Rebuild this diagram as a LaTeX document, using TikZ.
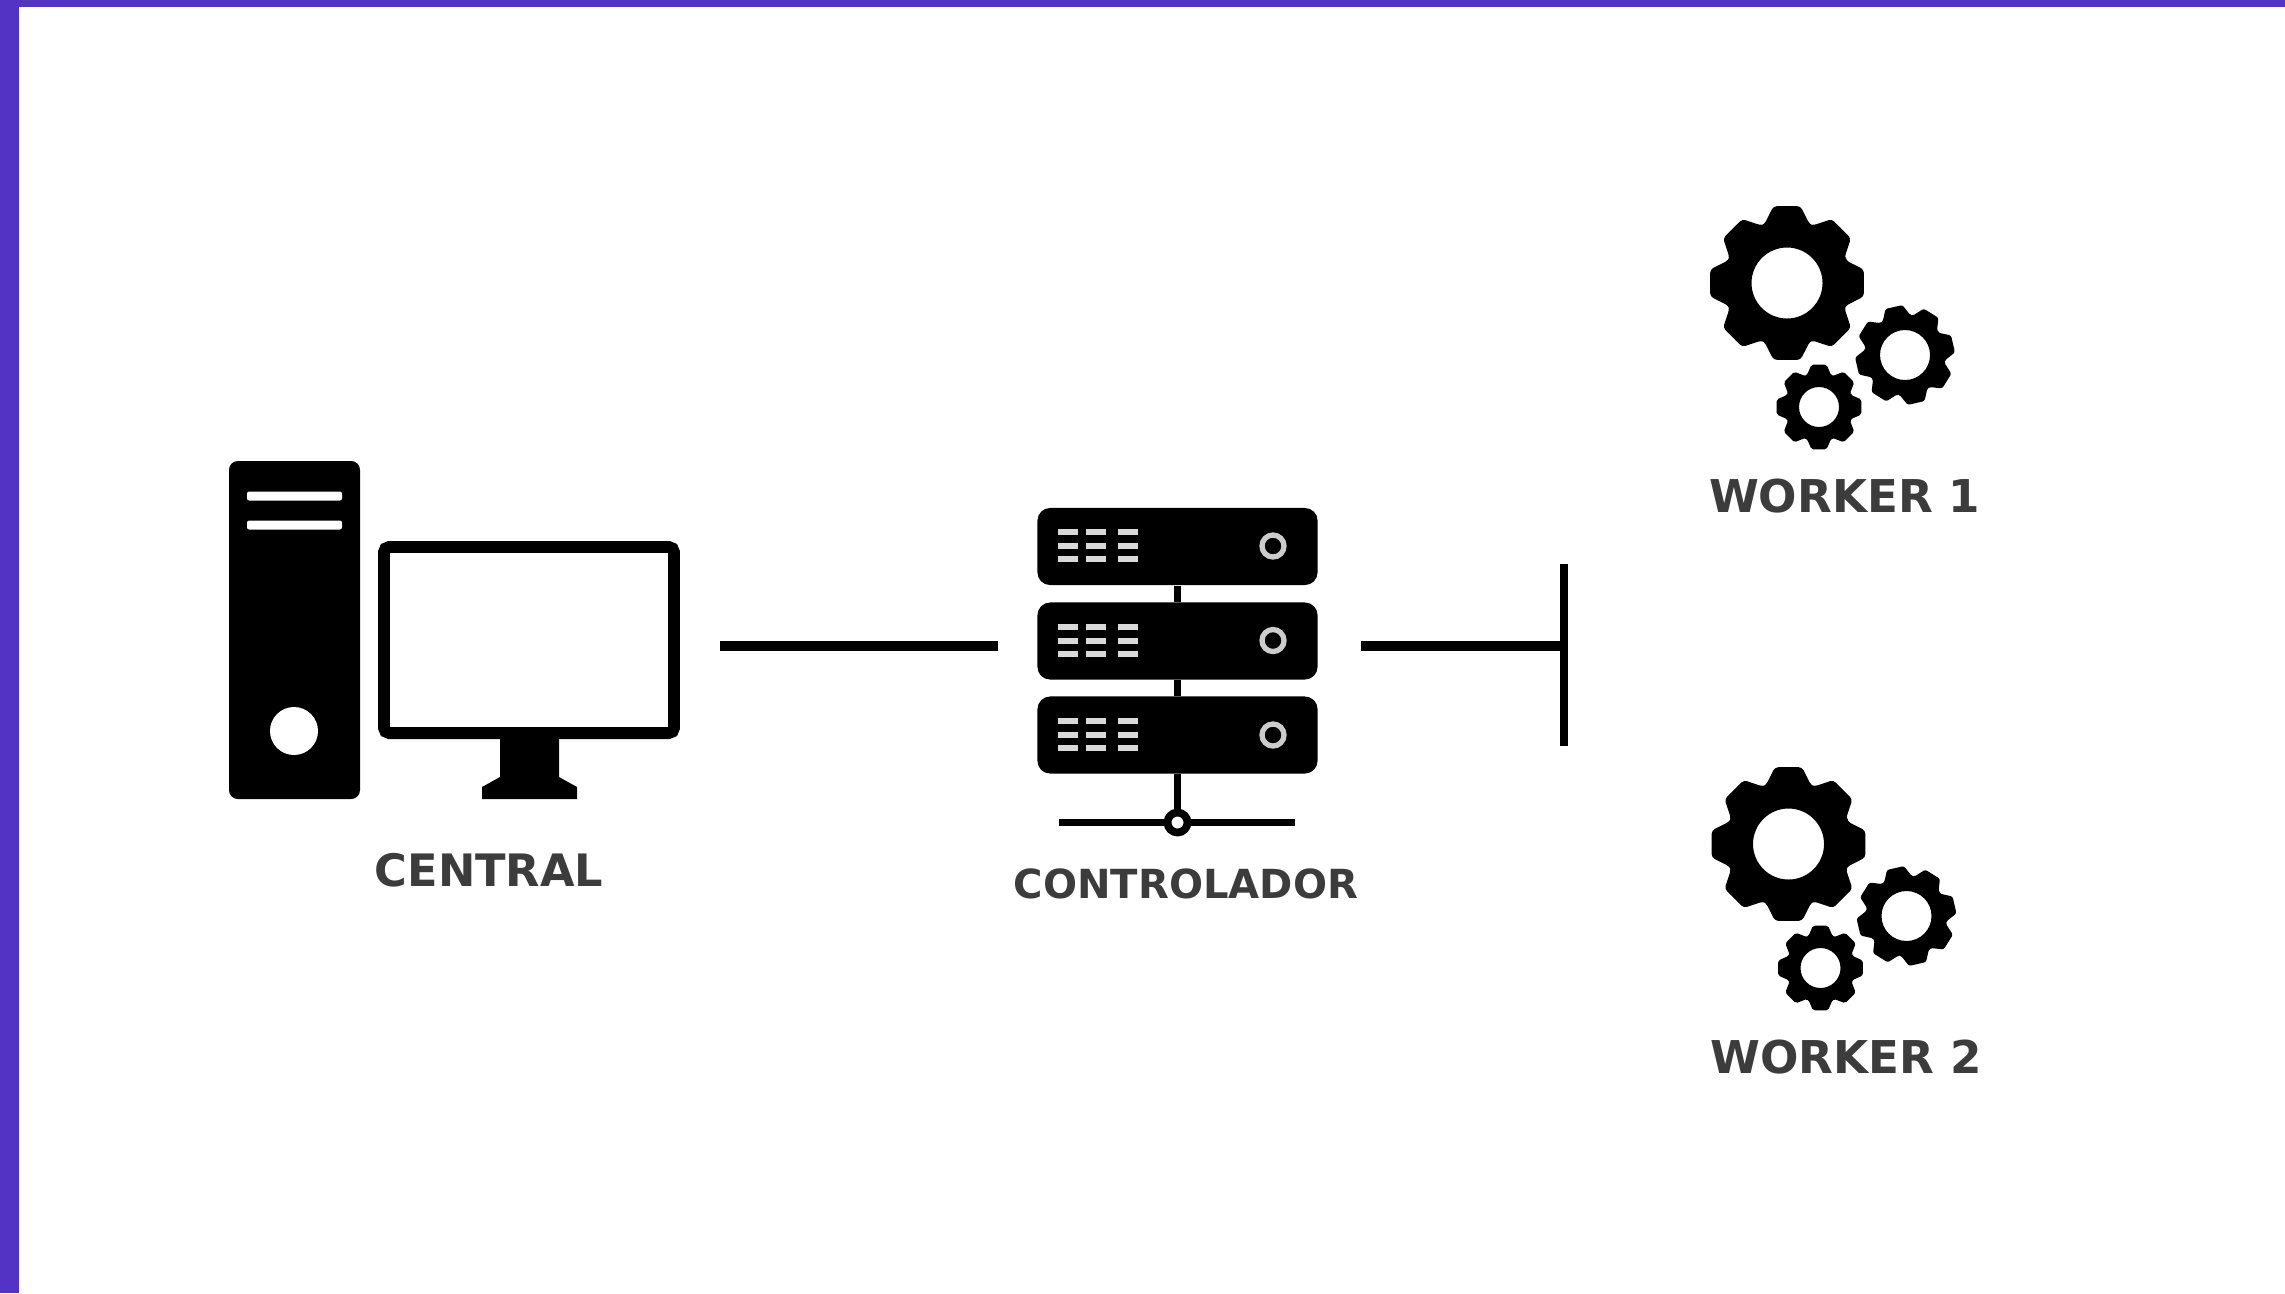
\documentclass[tikz,border=0pt]{standalone}
\usepackage{fontspec}
\setmainfont{DejaVu Sans}
\definecolor{bandviolet}{HTML}{5233C4}
\definecolor{labelgray}{HTML}{3C3C3C}
\tikzset{
  labeltext/.style={inner sep=0pt,text=labelgray,font=\fontsize{#1}{#1}\selectfont\bfseries},
  serverbox/.style={fill=black,rounded corners=3.6pt,minimum width=2.8cm,minimum height=0.77cm,inner sep=0pt},
  link/.style={line width=2.7pt},
  thinlink/.style={line width=2.2pt},
}
\newcommand{\gearicon}[6]{% x, y, rotation, outer, root, hole
  \fill[even odd rule,rounded corners=#4*0.012pt,shift={(#1,#2)}]
    ({#3-21}:#5) \foreach \a in {0,45,...,315} {
      -- ({#3+\a-21}:#5) -- ({#3+\a-10}:#4) -- ({#3+\a+10}:#4) -- ({#3+\a+21}:#5)
    } -- cycle
    (0,0) circle (#6);
}
\newcommand{\workericon}[3]{% dx, dy, number
  \begin{scope}[shift={(#1,#2)}]
    \gearicon{1787}{283}{0}{78}{63}{35.5}{}
    \gearicon{1905}{355}{-13}{50}{40}{25}{}
    \gearicon{1819}{407}{0}{43}{34}{20}{}
    \node[labeltext=12.85] (worker#3) at (1844.5,496.5) {WORKER #3};
  \end{scope}
}
\newcommand{\serverslots}[1]{%
  \foreach \sx in {1068,1096,1128} {
    \foreach \sy in {-14,0,13} {
      \fill[white!85!black] (\sx-10,#1+\sy-3) rectangle (\sx+10,#1+\sy+3);
    }
  }
  \draw[white!80!black,line width=1.5pt] (1273,#1) circle (11);
}

\begin{document}
\begin{tikzpicture}[x=0.01cm,y=-0.01cm]
\useasboundingbox (0,0) rectangle (2285,1293);
\fill[white] (0,0) rectangle (2285,1293);
\fill[bandviolet] (0,0) rectangle (19,1293);
\fill[bandviolet] (0,0) rectangle (2285,7);

% central
\fill[rounded corners=2.5pt] (229,461) rectangle (360,799);
\fill[white,rounded corners=0.6pt] (247,491.5) rectangle (342,500.5);
\fill[white,rounded corners=0.6pt] (247,520.5) rectangle (342,529.5);
\fill[white] (294,731) circle (24);
\draw[line width=3.4pt,rounded corners=1.5pt] (384,547) rectangle (674,733);
\fill (500,735) -- (559,735) -- (559,777) -- (577,787) -- (577,799) -- (482,799) -- (482,787) -- (500,777) -- cycle;
\node[labeltext=12.7] (central) at (489,870) {CENTRAL};

% controlador
\node[serverbox] (serverA) at (1177.5,546.5) {};
\node[serverbox] (serverB) at (1177.5,641) {};
\node[serverbox] (serverC) at (1177.5,735) {};
\draw[thinlink] (serverA) -- (serverB);
\draw[thinlink] (serverB) -- (serverC);
\serverslots{546}
\serverslots{640.5}
\serverslots{735}
\coordinate (busleft) at (1059,822.5);
\coordinate (busright) at (1295,822.5);
\node[circle,draw=black,fill=white,line width=2.2pt,minimum size=0.2cm,inner sep=0pt] (hub) at (1177.5,822.5) {};
\draw[thinlink] (busleft) -- (hub);
\draw[thinlink] (hub) -- (busright);
\draw[thinlink] (serverC.south) -- (hub);
\node[labeltext=11.4] (controlador) at (1186,884) {CONTROLADOR};

% links
\coordinate (centralport) at (720,646);
\coordinate (serverin) at (998,646);
\coordinate (serverout) at (1361,646);
\coordinate (bustop) at (1564,564);
\coordinate (busbottom) at (1564,746);
\draw[link] (centralport) -- (serverin);
\draw[link] (serverout) -- (serverout -| bustop);
\draw[thinlink] (bustop) -- (busbottom);

% workers
\workericon{0}{0}{1}
\workericon{1.5}{561}{2}
\end{tikzpicture}
\end{document}
